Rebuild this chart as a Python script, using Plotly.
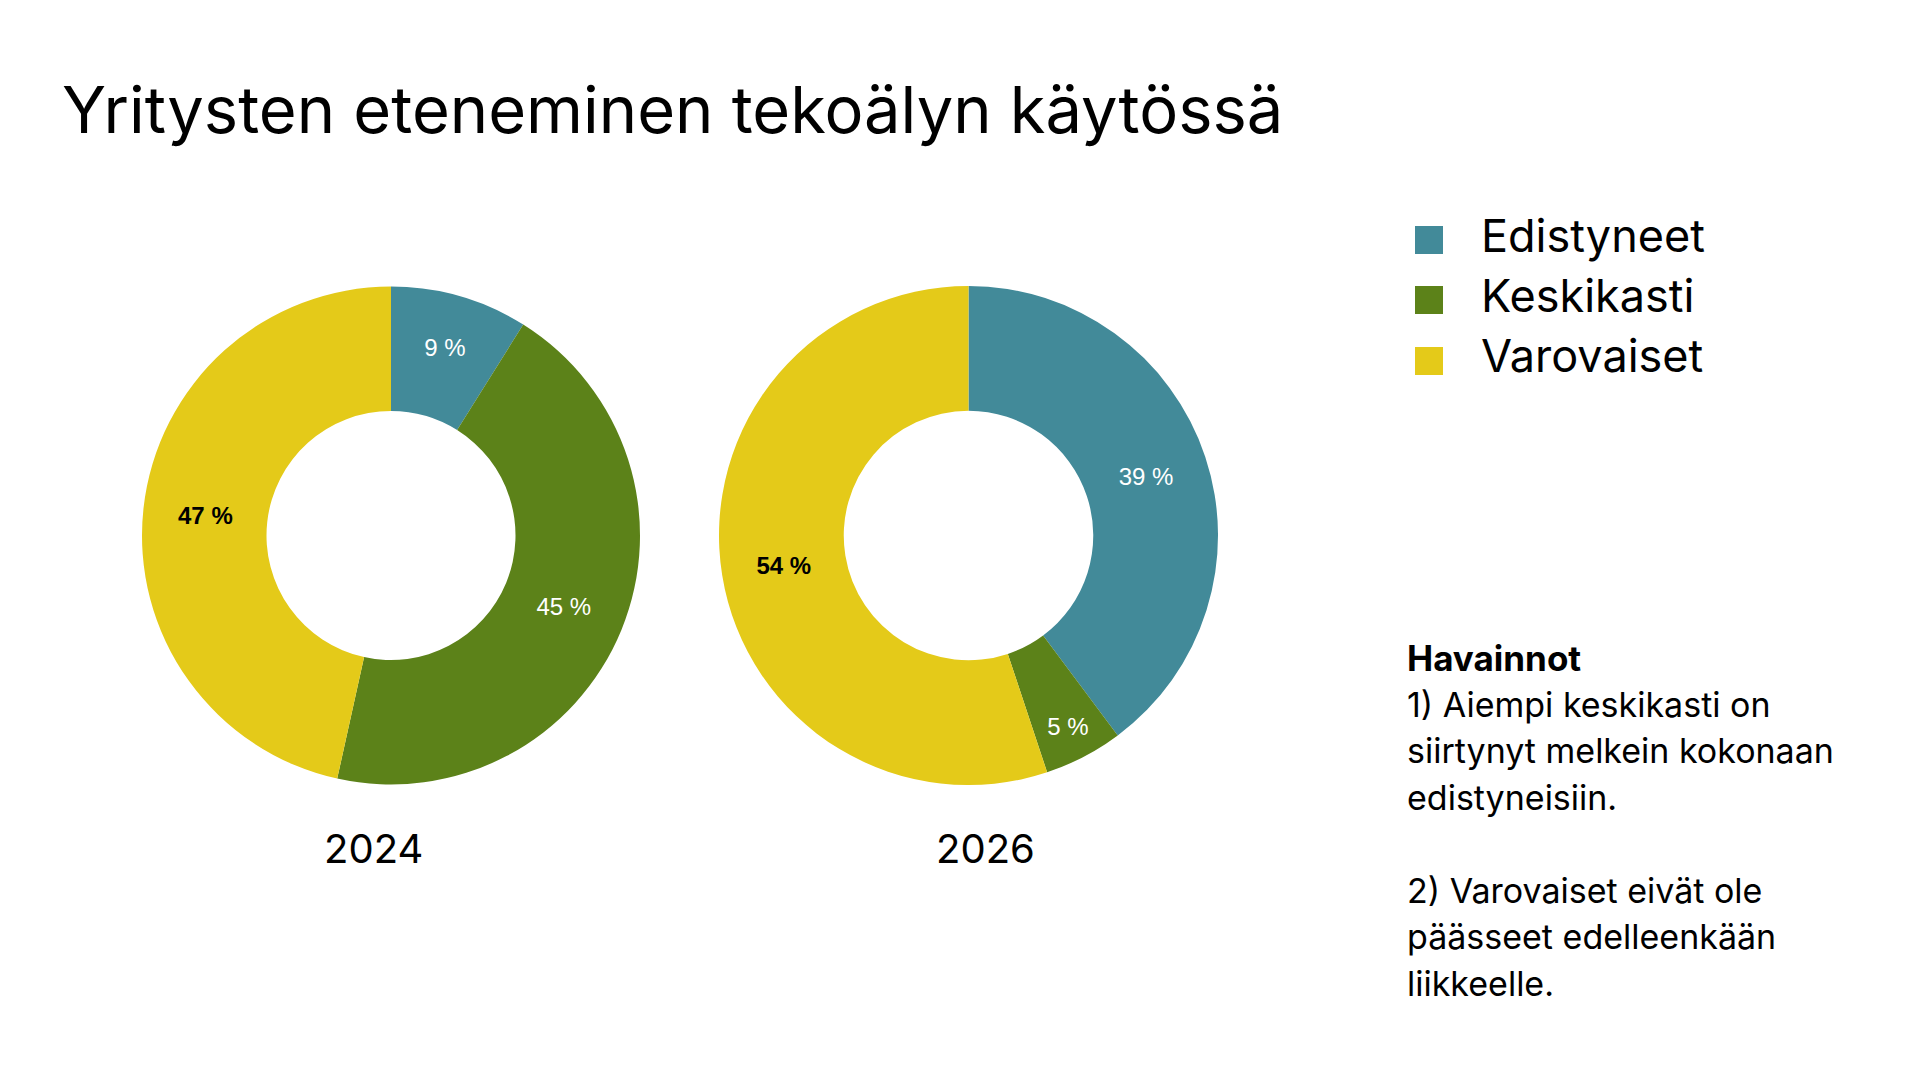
import plotly.graph_objects as go

# ---------------- data ----------------
categories = ["Edistyneet", "Keskikasti", "Varovaiset"]
years = ["2024", "2026"]
values_2024 = [9, 45, 47]
values_2026 = [39, 5, 54]
colors = ["#428A99", "#5C8219", "#E4CA19"]
label_colors = ["white", "white", "black"]
title_text = "Yritysten eteneminen tekoälyn käytössä"
notes_heading = "Havainnot"
notes_lines = [
    "1) Aiempi keskikasti on",
    "siirtynyt melkein kokonaan",
    "edistyneisiin.",
    "",
    "2) Varovaiset eivät ole",
    "päässeet edelleenkään",
    "liikkeelle.",
]

W, H = 1920, 1080
OFF = 8  # page body margin
FONT = "Inter, Noto Sans, sans-serif"
LABEL_FONT = "Liberation Sans, Arial, sans-serif"


def px(x):
    return (x - OFF) / W


def py(y):
    return 1 - (y - OFF) / H


templates = ["%{value} %", "%{value} %", "<b>%{value} %</b>"]

fig = go.Figure()
pie_boxes = [(142, 640), (719, 1218)]
for vals, (x0, x1) in zip([values_2024, values_2026], pie_boxes):
    fig.add_trace(go.Pie(
        labels=categories,
        values=vals,
        hole=0.5,
        sort=False,
        direction="clockwise",
        rotation=0,
        marker=dict(colors=colors, line=dict(width=0)),
        texttemplate=templates,
        textposition="inside",
        insidetextorientation="horizontal",
        textfont=dict(color=label_colors, size=24, family=LABEL_FONT),
        hoverinfo="label+value",
        showlegend=False,
        domain=dict(x=[px(x0), px(x1)], y=[py(785), py(286)]),
    ))

annotations = []
# title
annotations.append(dict(
    text=title_text, x=px(60), y=py(109), xref="paper", yref="paper",
    xanchor="left", yanchor="middle", showarrow=False,
    font=dict(family=FONT, size=65, color="black"),
))
# year labels
for yr, cx in zip(years, [373, 985]):
    annotations.append(dict(
        text=yr, x=px(cx), y=py(848), xref="paper", yref="paper",
        xanchor="center", yanchor="middle", showarrow=False,
        font=dict(family=FONT, size=40, color="black"),
    ))

# manual legend
shapes = []
leg_y = [240, 300, 361]
for cat, col, yc in zip(categories, colors, leg_y):
    shapes.append(dict(
        type="rect", xref="paper", yref="paper",
        x0=px(1415), x1=px(1443), y0=py(yc + 14), y1=py(yc - 14),
        fillcolor=col, line=dict(width=0),
    ))
    annotations.append(dict(
        text=cat, x=px(1479), y=py(yc - 5), xref="paper", yref="paper",
        xanchor="left", yanchor="middle", showarrow=False,
        font=dict(family=FONT, size=45, color="black"),
    ))

# notes
annotations.append(dict(
    text="<b>" + notes_heading + "</b>", x=px(1405), y=py(658), xref="paper", yref="paper",
    xanchor="left", yanchor="middle", showarrow=False,
    font=dict(family=FONT, size=35, color="black"),
))
for i, line in enumerate(notes_lines):
    if not line:
        continue
    annotations.append(dict(
        text=line, x=px(1405), y=py(704 + 46.5 * i), xref="paper", yref="paper",
        xanchor="left", yanchor="middle", showarrow=False,
        font=dict(family=FONT, size=34, color="black"),
    ))

fig.update_layout(
    width=W, height=H,
    margin=dict(l=0, r=0, t=0, b=0),
    paper_bgcolor="white", plot_bgcolor="white",
    annotations=annotations, shapes=shapes,
    showlegend=False,
)

fig.write_html("out.html")
